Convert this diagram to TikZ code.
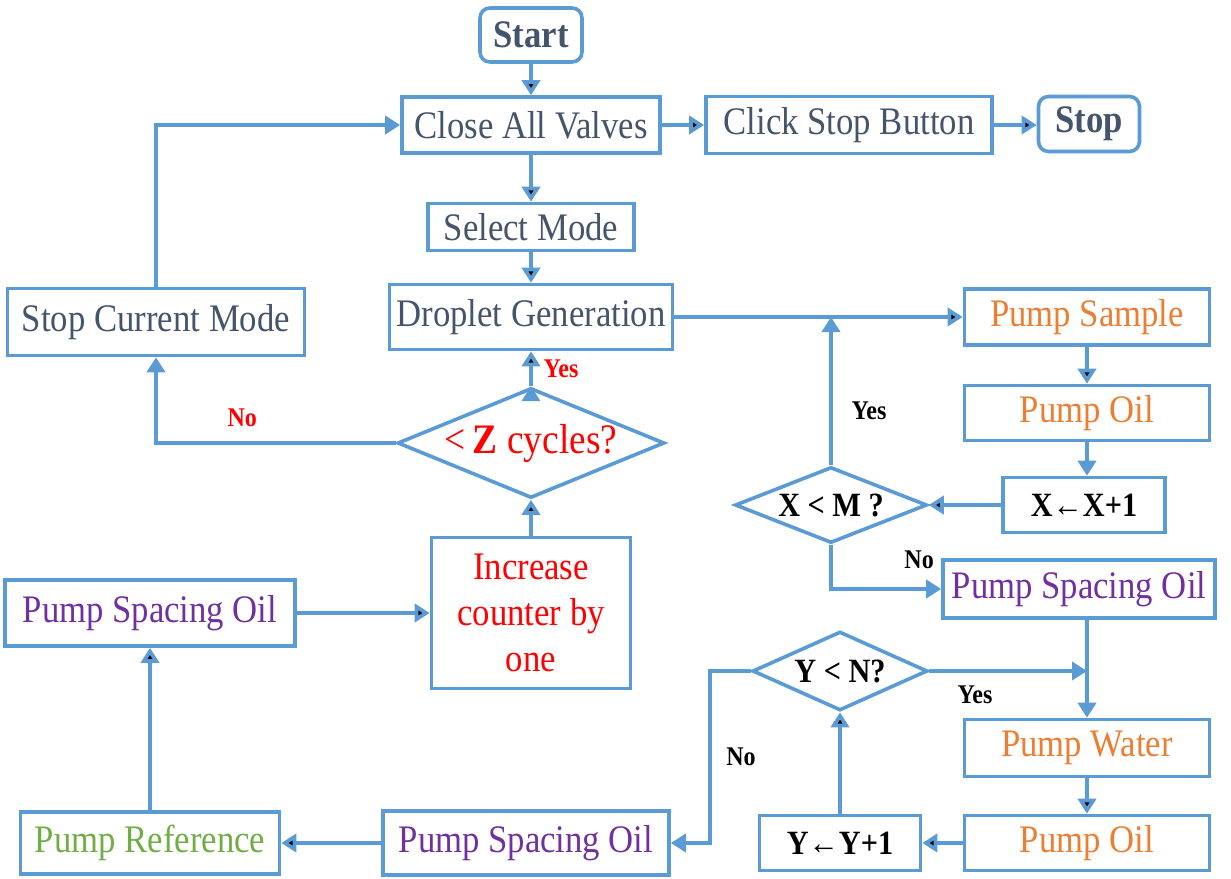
\documentclass[tikz,border=0pt]{standalone}
\usepackage{fontspec}
\setmainfont{Liberation Serif}[FakeStretch=0.89]
\usetikzlibrary{arrows.meta,shapes.geometric}
\definecolor{lineblue}{HTML}{5B9BD5}
\definecolor{txtgray}{HTML}{44546A}
\definecolor{pumporange}{HTML}{ED7D31}
\definecolor{oilpurple}{HTML}{7030A0}
\definecolor{refgreen}{HTML}{70AD47}
\definecolor{zred}{HTML}{FF0000}
\begin{document}
\begin{tikzpicture}[x=0.5pt,y=-0.5pt,every node/.style={font=\fontsize{19.5}{23}\selectfont}]
	\tikzstyle{block} = [rectangle,draw=lineblue,line width=1.8pt,inner sep=0pt,text=txtgray]
	\tikzstyle{term} = [block,rounded corners=5pt,font=\fontsize{19.5}{23}\selectfont\bfseries]
	\tikzstyle{decision} = [diamond,draw=lineblue,line width=1.8pt,inner sep=0pt]
	\tikzstyle{flow} = [draw=lineblue,line width=2pt,-{Triangle[width=9pt,length=7.5pt]}]
	\tikzstyle{yn} = [font=\fontsize{13.5}{15}\selectfont\bfseries]
	\tikzstyle{cond} = [font=\fontsize{17}{19}\selectfont\bfseries,text=black]
	\useasboundingbox (0,0) rectangle (1231,878);
	\node[term,minimum width=51pt,minimum height=27pt](start)at(531,35){Start};
	\node[block,minimum width=129pt,minimum height=28pt](close)at(531,125){Close All Valves};
	\node[block,minimum width=143pt,minimum height=28.5pt](click)at(849,125){Click Stop Button};
	\node[term,minimum width=50.5pt,minimum height=27.5pt](stop)at(1089,124){Stop};
	\node[block,minimum width=103pt,minimum height=23.5pt](select)at(531,227){Select Mode};
	\node[block,minimum width=141.5pt,minimum height=32.5pt](droplet)at(531,317){Droplet Generation};
	\node[block,minimum width=148.5pt,minimum height=33.5pt](stopcur)at(156,322){Stop Current Mode};
	\node[decision,minimum width=133.5pt,minimum height=55pt,
		label={[text=zred,font=\fontsize{21}{23}\selectfont]center:<\,{\bfseries Z} cycles?}](zcyc)at(531,443){};
	\node[block,minimum width=99.5pt,minimum height=75.5pt,align=center,text=zred](incr)at(531,613){Increase\\counter by\\one};
	\node[block,minimum width=145pt,minimum height=33pt,text=oilpurple](psoleft)at(150,613){Pump Spacing Oil};
	\node[block,minimum width=129.5pt,minimum height=31pt,text=refgreen](pumpref)at(150,843){Pump Reference};
	\node[block,minimum width=143pt,minimum height=32pt,text=oilpurple](psobot)at(526,843){Pump Spacing Oil};
	\node[block,minimum width=122.5pt,minimum height=28pt,text=pumporange](sample)at(1087,317){Pump Sample};
	\node[block,minimum width=122.5pt,minimum height=27.5pt,text=pumporange](oiltop)at(1087,413){Pump Oil};
	\node[decision,minimum width=96pt,minimum height=38pt,label={[cond]center:X < M ?}](xm)at(831,505){};
	\node[block,cond,minimum width=81pt,minimum height=27.5pt](xinc)at(1084,505){X←X+1};
	\node[block,minimum width=136pt,minimum height=29pt,text=oilpurple](psoright)at(1079,589){Pump Spacing Oil};
	\node[decision,minimum width=87.5pt,minimum height=39.5pt,label={[cond]center:Y < N?}](yn)at(840,671){};
	\node[block,minimum width=122.5pt,minimum height=28.5pt,text=pumporange](water)at(1087,748){Pump Water};
	\node[block,minimum width=122.5pt,minimum height=27.5pt,text=pumporange](oilbot)at(1087,843){Pump Oil};
	\node[block,cond,minimum width=80.5pt,minimum height=27.5pt](yinc)at(840,843){Y←Y+1};
	\path[flow] (start) edge (close)
	(close) edge (click)
	(click.east) edge (click.east -| stop.west)
	(close) edge (select)
	(select) edge (droplet)
	(zcyc.north) edge node[yn,right=2pt,text=zred]{Yes} (droplet.south)
	(incr) edge (zcyc.south)
	(psoleft) edge (incr)
	(pumpref) edge (psoleft)
	(psobot) edge (pumpref)
	(droplet) edge (sample)
	(sample) edge (oiltop)
	(xinc) edge (xm.east)
	(water) edge (oilbot)
	(oilbot) edge (yinc)
	(yinc) edge (yn.south);
	\draw[flow] (oiltop.south) -- (oiltop.south |- xinc.north);
	\draw[flow] (zcyc.west) -| node[yn,pos=0.32,above=4pt,text=zred]{No} (stopcur.south);
	\draw[flow] (stopcur.north) |- (close.west);
	\draw[flow] (xm.north) -- node[yn,pos=0.37,right=6pt]{Yes} (xm.north |- sample.west);
	\draw[flow] (xm.south) |- node[yn,pos=0.9,above=6pt]{No} (psoright.west);
	\draw[flow] (water.north |- psoright.south) -- (water.north);
	\draw[flow] (yn.east) -- node[yn,pos=0.29,below=3pt]{Yes} (yn.east -| water.north);
	\draw[flow] (yn.west) -- ++(-41,0) |- node[yn,pos=0.25,right=4pt]{No} (psobot.east);
\end{tikzpicture}
\end{document}
